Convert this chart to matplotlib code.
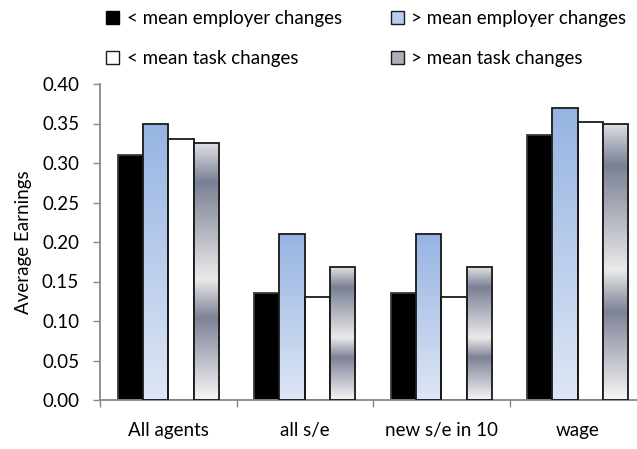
import numpy as np
import matplotlib.pyplot as plt
from matplotlib.patches import Rectangle

plt.rcParams['font.family'] = ['Lato', 'DejaVu Sans']

groups = ['All agents', 'all s/e', 'new s/e in 10', 'wage']
series = ['< mean employer changes', '> mean employer changes',
          '< mean task changes', '> mean task changes']
emp_low = [0.31, 0.135, 0.135, 0.335]
emp_high = [0.35, 0.21, 0.21, 0.37]
task_low = [0.33, 0.13, 0.13, 0.352]
task_high = [0.325, 0.168, 0.168, 0.35]
yticks = [0.0, 0.05, 0.10, 0.15, 0.20, 0.25, 0.30, 0.35, 0.40]

# gradient stops (position from top of bar, rgb)
blue_stops = [(0.0, (150, 180, 226)), (1.0, (222, 230, 245))]
gray_stops = [(0.0, (222, 224, 228)), (0.15, (122, 128, 148)), (0.53, (234, 234, 234)),
              (0.68, (125, 130, 150)), (1.0, (246, 246, 246))]


def make_grad(stops, n=256):
    t = np.linspace(0, 1, n)
    pos = [s[0] for s in stops]
    cols = np.array([s[1] for s in stops]) / 255.0
    img = np.stack([np.interp(t, pos, cols[:, c]) for c in range(3)], axis=1)
    return img.reshape(n, 1, 3)


fs = 13.5
fig = plt.figure(figsize=(6.37, 4.49), dpi=100)
ax = fig.add_axes([100 / 637, 49 / 449, 546 / 637, 316 / 449])

w = 0.185
x = np.arange(len(groups)) + 0.5
data = [emp_low, emp_high, task_low, task_high]
fills = ['black', blue_stops, 'white', gray_stops]
edges = ['#3a3a3a', '#1a1a1a', '#1a1a1a', '#1a1a1a']

for k, vals in enumerate(data):
    xs = x + (k - 1.5) * w
    if isinstance(fills[k], str):
        ax.bar(xs, vals, w, color=fills[k], edgecolor=edges[k], linewidth=1.3, zorder=2)
    else:
        bars = ax.bar(xs, vals, w, color='none', edgecolor=edges[k], linewidth=1.3, zorder=3)
        img = make_grad(fills[k])
        for b in bars:
            x0, h = b.get_x(), b.get_height()
            im = ax.imshow(img, extent=(x0, x0 + w, 0, h), aspect='auto',
                           origin='upper', zorder=2, interpolation='bilinear')
            im.set_clip_path(b)

ax.set_xlim(0, 4)
ax.set_ylim(0, 0.40)
ax.set_yticks(yticks)
ax.set_yticklabels(['%.2f' % v for v in yticks])
ax.set_xticks(x)
ax.set_xticklabels(groups)
ax.set_xticks(np.arange(5), minor=True)
ax.tick_params(axis='x', which='major', length=0, pad=16, labelsize=fs)
ax.tick_params(axis='x', which='minor', length=5, color='#888888', width=1)
ax.tick_params(axis='y', length=5, color='#888888', width=1, pad=10, labelsize=fs)
for s in ['top', 'right']:
    ax.spines[s].set_visible(False)
for s in ['left', 'bottom']:
    ax.spines[s].set_color('#888888')
    ax.spines[s].set_linewidth(1.3)
ax.set_ylabel('Average Earnings', fontsize=fs, labelpad=7)

h_el = Rectangle((0, 0), 1, 1, facecolor='black', edgecolor='black')
h_eh = Rectangle((0, 0), 1, 1, facecolor=(0.73, 0.8, 0.92), edgecolor='#1a1a1a')
h_tl = Rectangle((0, 0), 1, 1, facecolor='white', edgecolor='#1a1a1a')
h_th = Rectangle((0, 0), 1, 1, facecolor=(0.68, 0.69, 0.72), edgecolor='#1a1a1a')
# legend fills column by column, so order so rows read employer / task
fig.legend([h_el, h_tl, h_eh, h_th], [series[0], series[2], series[1], series[3]],
           loc='upper left', bbox_to_anchor=(106 / 637, 1 - 10 / 449),
           ncol=2, frameon=False, fontsize=fs, handlelength=0.7, handleheight=0.7,
           handletextpad=0.4, columnspacing=2.6, labelspacing=1.22, borderpad=0,
           borderaxespad=0)

fig.savefig('out.png', dpi=100)
